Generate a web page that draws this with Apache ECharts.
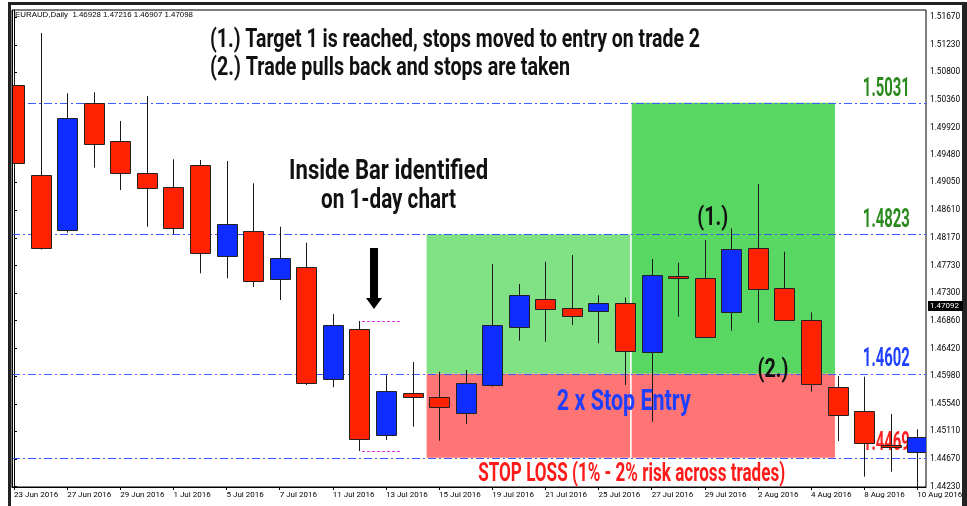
<!DOCTYPE html>
<html><head><meta charset="utf-8">
<script src="https://cdn.jsdelivr.net/npm/echarts@6/dist/echarts.min.js"></script>
<style>html,body{margin:0;padding:0;background:#fff}#c{width:967px;height:506px}</style>
</head><body><div id="c"></div>
<script>
// ---------- DATA ----------
const dates = ['23 Jun 2016','24 Jun 2016','27 Jun 2016','28 Jun 2016','29 Jun 2016','30 Jun 2016',
  '1 Jul 2016','4 Jul 2016','5 Jul 2016','6 Jul 2016','7 Jul 2016','8 Jul 2016',
  '11 Jul 2016','12 Jul 2016','13 Jul 2016','14 Jul 2016','15 Jul 2016',
  '18 Jul 2016','19 Jul 2016','20 Jul 2016','21 Jul 2016','22 Jul 2016',
  '25 Jul 2016','26 Jul 2016','27 Jul 2016','28 Jul 2016','29 Jul 2016',
  '1 Aug 2016','2 Aug 2016','3 Aug 2016','4 Aug 2016','5 Aug 2016',
  '8 Aug 2016','9 Aug 2016','10 Aug 2016'];
const opens  = [1.50593,1.49167,1.48296,1.50313,1.49711,1.49194,1.48972,1.49326,1.47884,1.48280,1.47520,1.47710,
  1.45936,1.46723,1.45049,1.45714,1.45646,1.45393,1.45841,1.46755,1.47208,1.47061,1.47008,1.47140,
  1.46368,1.47567,1.47541,1.46992,1.48006,1.47382,1.46875,1.45814,1.45434,1.44890,1.44784];
const closes = [1.49357,1.48006,1.50065,1.49658,1.49194,1.48957,1.48323,1.47927,1.48386,1.47488,1.47857,1.45868,
  1.46796,1.44981,1.45741,1.45656,1.45488,1.45868,1.46796,1.47262,1.47050,1.46939,1.47145,1.46387,
  1.47579,1.47536,1.46606,1.47990,1.47357,1.46871,1.45857,1.45366,1.44917,1.44854,1.45012];
const highs  = [1.50878,1.51417,1.50461,1.50477,1.50023,1.50419,1.49416,1.49405,1.49389,1.49036,1.48348,1.48095,
  1.46966,1.46855,1.45995,1.46205,1.46052,1.46079,1.47758,1.47441,1.47794,1.47900,1.47262,1.47227,
  1.47837,1.47778,1.48138,1.48323,1.49025,1.47952,1.46992,1.45983,1.45972,1.45382,1.45139];
const lows   = [1.49278,1.47987,1.48253,1.49283,1.48930,1.48348,1.48228,1.47610,1.47531,1.47393,1.47187,1.45841,
  1.45804,1.44795,1.44970,1.45180,1.44959,1.45223,1.45814,1.46543,1.46527,1.46791,1.46501,1.45841,
  1.45260,1.46923,1.46593,1.46701,1.46828,1.46855,1.45735,1.44954,1.44388,1.44468,1.44178];
const yTicks = [1.51670,1.51230,1.50800,1.50360,1.49920,1.49480,1.49050,1.48610,1.48170,
  1.47730,1.47300,1.46860,1.46420,1.45980,1.45540,1.45110,1.44670,1.44230];
const xTickIdx = [0,2,4,6,8,10,12,14,16,18,20,22,24,26,28,30,32,34];
const levels = [1.5031, 1.4823, 1.4602, 1.4469];
const levelNames = ['1.5031','1.4823','1.4602','1.4469'];
const currentPrice = 1.47092;
const header = 'EURAUD,Daily  1.46928 1.47216 1.46907 1.47098';
// zones: [xStart, xEnd, priceLow, priceHigh] in bar-index units
const zoneA = [15.53, 23.19, levels[2], levels[1]];   // light green
const zoneB = [23.25, 30.90, levels[2], levels[0]];   // green
const zoneC = [15.53, 23.19, levels[3], levels[2]];   // red (trade 1)
const zoneD = [23.25, 30.90, levels[3], levels[2]];   // red (trade 2)

// ---------- STYLE ----------
const RED = '#ff2200', BLUE = '#0f2cff', WICK = '#1a1a1a';
const zoneColors = ['#80e284', '#58d862', '#ff7474', '#ff7474'];
const FN = 'Roboto';
const FS = 'Roboto, "Liberation Sans", sans-serif';

const candleData = dates.map((d, i) => [i, opens[i], closes[i], lows[i], highs[i]]);
const zoneData = [zoneA, zoneB, zoneC, zoneD].map((z, k) => [z[0], z[1], z[2], z[3], k]);

const option = {
  animation: false,
  backgroundColor: '#fff',
  grid: { left: 12, right: 41, top: 10, bottom: 19, show: true, borderColor: '#000', borderWidth: 1 },
  xAxis: {
    type: 'value', min: -0.0753, max: 34.327,
    splitLine: { show: false },
    axisLine: { show: true, onZero: false, lineStyle: { color: '#000', width: 1 } },
    axisTick: { show: true, length: 3, customValues: xTickIdx, lineStyle: { color: '#000' } },
    axisLabel: { customValues: xTickIdx, formatter: v => dates[Math.round(v)] || '', align: 'left',
      margin: 4, fontFamily: FS, fontSize: 8, color: '#000', hideOverlap: false }
  },
  yAxis: {
    type: 'value', position: 'right', min: 1.44225, max: 1.51781,
    splitLine: { show: false },
    axisLine: { show: true, lineStyle: { color: '#000', width: 1 } },
    axisTick: { show: true, length: 3, customValues: yTicks, lineStyle: { color: '#000' } },
    axisLabel: { customValues: yTicks, formatter: v => v.toFixed(5), margin: 4,
      fontFamily: FS, fontSize: 8.3, color: '#000' }
  },
  series: [
    { // zones
      type: 'custom', z: 1, clip: true, silent: true,
      data: zoneData,
      renderItem(params, api) {
        const p0 = api.coord([api.value(0), api.value(3)]);
        const p1 = api.coord([api.value(1), api.value(2)]);
        return { type: 'rect', shape: { x: p0[0], y: p0[1], width: p1[0] - p0[0], height: p1[1] - p0[1] },
          style: { fill: zoneColors[api.value(4)] } };
      }
    },
    { // level lines
      type: 'custom', z: 2, clip: true, silent: true,
      data: levels.map(v => [0, v]),
      renderItem(params, api) {
        const cs = params.coordSys;
        const y = Math.round(api.coord([0, api.value(1)])[1]) + 0.5;
        return { type: 'line', shape: { x1: cs.x, y1: y, x2: cs.x + cs.width, y2: y },
          style: { stroke: '#3b5bff', lineWidth: 1, lineDash: [8, 3, 2, 3] } };
      }
    },
    { // inside-bar marks
      type: 'custom', z: 2, clip: true, silent: true,
      data: [[13.1, 14.53, highs[13]], [13.1, 14.53, lows[13]]],
      renderItem(params, api) {
        const a = api.coord([api.value(0), api.value(2)]);
        const b = api.coord([api.value(1), api.value(2)]);
        const y = Math.round(a[1]) + 0.5;
        return { type: 'line', shape: { x1: a[0], y1: y, x2: b[0], y2: y },
          style: { stroke: '#e030e0', lineWidth: 1, lineDash: [3, 2] } };
      }
    },
    { // candles
      type: 'custom', z: 5, clip: true, silent: true,
      data: candleData,
      renderItem(params, api) {
        const i = api.value(0), o = api.value(1), c = api.value(2), l = api.value(3), h = api.value(4);
        const top = api.coord([i, Math.max(o, c)]);
        const bot = api.coord([i, Math.min(o, c)]);
        const hp = api.coord([i, h]), lp = api.coord([i, l]);
        const w = Math.round(api.size([1, 0])[0] * 0.75);
        const x = Math.round(top[0]);
        const yt = Math.round(top[1]), yb = Math.round(bot[1]);
        return { type: 'group', children: [
          { type: 'line', shape: { x1: x + 0.5, y1: hp[1], x2: x + 0.5, y2: lp[1] },
            style: { stroke: WICK, lineWidth: 1 } },
          { type: 'rect', shape: { x: x - w / 2 + 0.5, y: yt + 0.5, width: w, height: Math.max(yb - yt, 1) },
            style: { fill: c >= o ? BLUE : RED, stroke: '#222', lineWidth: 1 } }
        ] };
      }
    }
  ]
};

const chart = echarts.init(document.getElementById('c'));
chart.setOption(option);

const mctx = document.createElement('canvas').getContext('2d');
function measure(text, fs, ff, fw) { mctx.font = (fw || 'normal') + ' ' + fs + 'px ' + ff; return mctx.measureText(text).width; }
const px = (i, p) => chart.convertToPixel({ xAxisIndex: 0, yAxisIndex: 0 }, [i, p]);
const g = [];
function T(x, y, text, o) {
  const fs = o.fs || 24, ff = o.ff || FN, fw = o.fw || 'normal';
  let sx = o.sx || 1;
  if (o.w) sx = o.w / measure(text, fs, ff, fw);
  g.push({ type: 'text', x: x, y: y, z: o.z == null ? 10 : o.z, scaleX: sx, originX: 0, originY: 0,
    style: { text: text, fontFamily: ff, fontSize: fs, fontWeight: fw, fill: o.c || '#111',
      align: o.a || 'left', verticalAlign: o.va || 'middle' } });
}
const B = 'bold';
// outer frame
g.push({ type: 'rect', shape: { x: 8, y: 2, width: 959, height: 3 }, style: { fill: '#222' }, z: 50 });
g.push({ type: 'rect', shape: { x: 8, y: 2, width: 3, height: 504 }, style: { fill: '#222' }, z: 50 });
g.push({ type: 'rect', shape: { x: 962, y: 2, width: 5, height: 504 }, style: { fill: '#222' }, z: 50 });
g.push({ type: 'rect', shape: { x: 12, y: 10, width: 1, height: 477 }, style: { fill: '#000' }, z: 50 });
// header
T(15, 15, header, { ff: '"Liberation Sans", sans-serif', fs: 8, c: '#000', w: 178 });
// titles
T(210, 40, '(1.) Target 1 is reached, stops moved to entry on trade 2', { fs: 26, w: 490, fw: B });
T(210, 68, '(2.) Trade pulls back and stops are taken', { fs: 26, w: 360, fw: B });
// inside bar text
const ib = px(14.1, 1.4867);
T(ib[0], 172, 'Inside Bar identified', { fs: 28, a: 'center', w: 199, fw: B });
T(ib[0], 201, 'on 1-day chart', { fs: 28, a: 'center', w: 135, fw: B });
// arrow
const ah = px(13.55, highs[13]);
const ax = ah[0], ay = ah[1] - 12;
g.push({ type: 'polygon', z: 10, shape: { points: [
  [ax - 4, ay - 61], [ax + 4, ay - 61], [ax + 4, ay - 11], [ax + 8, ay - 11], [ax, ay], [ax - 8, ay - 11], [ax - 4, ay - 11]
] }, style: { fill: '#000' } });
// level labels
const lvlColors = ['#2a8a1e', '#2a8a1e', '#1f3fff', '#ff1f1f'];
levels.forEach((v, k) => {
  const p = px(33.72, v);
  T(p[0], p[1] - 1, levelNames[k], { fs: 25, c: lvlColors[k], a: 'right', va: 'bottom', z: 0, w: 47, fw: B });
});
// (1.) (2.)
const ps = 31 / measure('(2.)', 26, FN, B);
const p1 = px(26.3, 1.4823);
T(p1[0], p1[1] - 16, '(1.)', { fs: 26, a: 'center', sx: ps, fw: B });
const p2 = px(28.57, 1.4602);
T(p2[0], p2[1] - 3, '(2.)', { fs: 26, a: 'center', sx: ps, fw: B });
// 2 x Stop Entry
const se = px(22.95, 1.45556);
T(se[0], se[1], '2 x Stop Entry', { fs: 30, a: 'center', c: '#1f3fff', w: 134, fw: B });
// STOP LOSS
const sl = px(23.25, 1.4469);
T(sl[0], sl[1] + 17, 'STOP LOSS (1% - 2% risk across trades)', { fs: 25, a: 'center', c: '#ff1a1a', w: 307, fw: B });
// current price tag
const cp = px(34.327, currentPrice);
g.push({ type: 'rect', z: 60, shape: { x: cp[0] + 2, y: Math.round(cp[1]) - 5, width: 35, height: 10 }, style: { fill: '#000' } });
T(cp[0] + 4, Math.round(cp[1]), currentPrice.toFixed(5), { ff: FS, fs: 8, c: '#fff', z: 61 });

chart.setOption({ graphic: { elements: g } });
</script>
</body></html>
